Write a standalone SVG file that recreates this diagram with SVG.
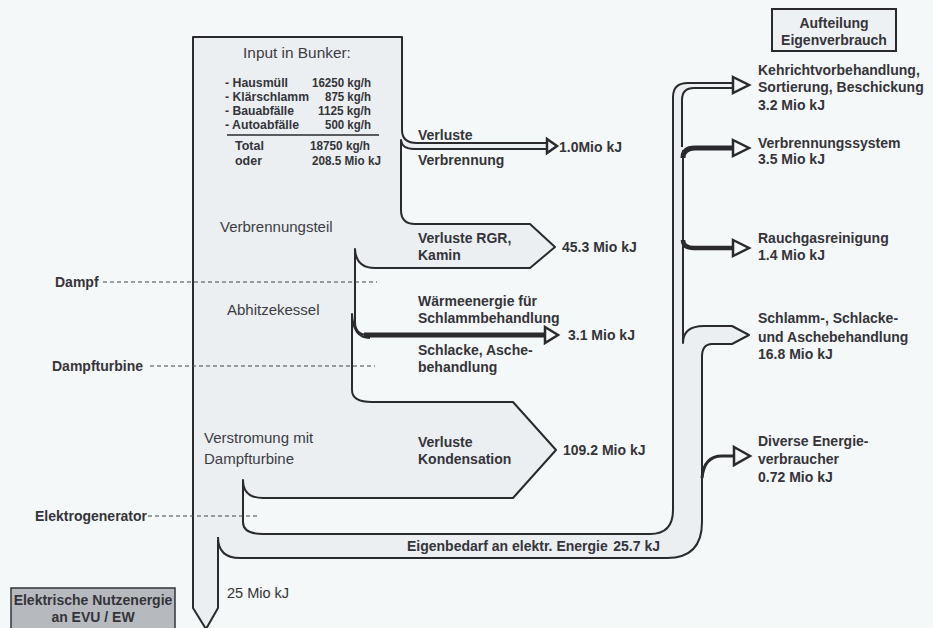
<svg xmlns="http://www.w3.org/2000/svg" width="933" height="628" viewBox="0 0 933 628">
<style>
text{font-family:"Liberation Sans",Arial,sans-serif;fill:#34343a}
.b{font-size:14px;font-weight:bold}
.bi{font-size:13px;font-weight:bold}
.r{font-size:15px;font-weight:normal;fill:#3c3c42}
.edge{fill:none;stroke:#2a2a2e;stroke-width:2;stroke-linejoin:round}
.thick{fill:none;stroke:#2a2a2e;stroke-width:5}
.head{fill:#f5f8f8;stroke:#2a2a2e;stroke-width:2.5;stroke-linejoin:miter}
.dash{fill:none;stroke:#444;stroke-width:1.2;stroke-dasharray:4 3}
.flow{fill:#ebeff2;stroke:none}
</style>
<rect x="0" y="0" width="933" height="628" fill="#f5f8f8"/>

<g id="flows">
<path class="flow" d="M193,37 H402 V130 Q402,143 417,143 H547 V149 H413 Q403,149 402,145 V210 Q402,224 415,224 H530 L555,247 L530,268 H375 Q356,268 355,250 V322 Q355,335 368,335 H545 V338 H368 Q353,338 352,325 V390 Q352,402 372,402 H513 L556,450 L513,498 H263 Q243,498 243,482 V522 Q243,534 263,534 H650 Q673,534 673,510 V97 Q673,83 688,83 H735 V88 H694 Q683,88 683,100 V340 Q684,326 704,326 H732 L749,335 L732,344 H712 Q702,344 702,357 V522 Q702,558 667,558 H240 Q218,558 218,540 V608 L206,629 L193,608 Z"/>
</g>

<g id="connectors">
<path class="edge" d="M218,540 V608 L206,629 L193,608 V37 H402 V130 Q402,143 417,143 H547"/>
<path class="edge" d="M547,149 H414 Q402,149 401,140 V210 Q401,224 415,224 H530 L555,247 L530,268 H375 Q356,268 355,249 V322 Q355,335 368,335 H380"/>
<path class="thick" d="M364,335 H546"/>
<path class="edge" d="M370,338 Q353,338 352,314 V390 Q352,402 372,402 H513 L556,450 L513,498 H263 Q243,498 243,480 V522 Q243,534 263,534 H650 Q673,534 673,510 V97 Q673,83 688,83 H735"/>
<path class="edge" d="M682,147 V100 Q682,88 694,88 H735"/>
<path class="edge" d="M683,150 V343 Q683,326 704,326 H732 L749,335 L732,344 H712 Q702,344 702,357 V522 Q702,558 667,558 H240 Q218,558 218,537"/>
<path class="thick" d="M683,158 Q683,148 695,148 H735"/>
<path class="thick" style="stroke-width:4.5" d="M683,240 Q683,248 694,248 H735"/>
<path class="edge" style="stroke-width:3" d="M702,478 Q704,456 722,456 H736"/>
<polygon class="head" points="547,139 557,146 547,153"/>
<polygon class="head" points="545,327 558,335 545,343"/>
<polygon class="head" points="733,77 749,85 733,93"/>
<polygon class="head" points="733,140 749,148 733,156"/>
<polygon class="head" points="733,240 749,248 733,256"/>
<polygon class="head" points="734,447 750,456 734,465"/>
<path class="dash" d="M103,282 H377"/>
<path class="dash" d="M150,366 H375"/>
<path class="dash" d="M148,516 H258"/>
</g>

<g id="bunker">
<text class="r" x="297" y="58" text-anchor="middle" style="font-size:15.4px">Input in Bunker:</text>
<text class="bi" x="225" y="87" textLength="63" lengthAdjust="spacingAndGlyphs">- Hausmüll</text><text class="bi" x="312" y="87" textLength="59" lengthAdjust="spacingAndGlyphs">16250 kg/h</text>
<text class="bi" x="225" y="101" textLength="84" lengthAdjust="spacingAndGlyphs">- Klärschlamm</text><text class="bi" x="325" y="101" textLength="46" lengthAdjust="spacingAndGlyphs">875 kg/h</text>
<text class="bi" x="225" y="115" textLength="69" lengthAdjust="spacingAndGlyphs">- Bauabfälle</text><text class="bi" x="318" y="115" textLength="53" lengthAdjust="spacingAndGlyphs">1125 kg/h</text>
<text class="bi" x="225" y="129" textLength="74" lengthAdjust="spacingAndGlyphs">- Autoabfälle</text><text class="bi" x="325" y="129" textLength="46" lengthAdjust="spacingAndGlyphs">500 kg/h</text>
<path d="M227,135 H379" stroke="#2a2a2e" stroke-width="1.6"/>
<text class="bi" x="235" y="150" textLength="29" lengthAdjust="spacingAndGlyphs">Total</text><text class="bi" x="310" y="150" textLength="60" lengthAdjust="spacingAndGlyphs">18750 kg/h</text>
<text class="bi" x="235" y="165" textLength="27" lengthAdjust="spacingAndGlyphs">oder</text><text class="bi" x="312" y="165" textLength="69" lengthAdjust="spacingAndGlyphs">208.5 Mio kJ</text>
</g>

<g id="sections">
<text class="r" x="220" y="232">Verbrennungsteil</text>
<text class="r" x="227" y="315">Abhitzekessel</text>
<text class="r" x="204" y="443">Verstromung mit</text>
<text class="r" x="204" y="464">Dampfturbine</text>
</g>

<g id="left-labels">
<text class="b" x="55" y="287">Dampf</text>
<text class="b" x="52" y="371">Dampfturbine</text>
<text class="b" x="35" y="521">Elektrogenerator</text>
</g>

<g id="loss-verbrennung">
<text class="b" x="418" y="140">Verluste</text>
<text class="b" x="418" y="165">Verbrennung</text>
<text class="b" x="559" y="152">1.0Mio kJ</text>
</g>
<g id="loss-rgr">
<text class="b" x="418" y="243">Verluste RGR,</text>
<text class="b" x="418" y="260">Kamin</text>
<text class="b" x="562" y="252">45.3 Mio kJ</text>
</g>
<g id="waerme">
<text class="b" x="418" y="306">Wärmeenergie für</text>
<text class="b" x="418" y="323">Schlammbehandlung</text>
<text class="b" x="418" y="355">Schlacke, Asche-</text>
<text class="b" x="418" y="372">behandlung</text>
<text class="b" x="568" y="340">3.1 Mio kJ</text>
</g>
<g id="loss-kondensation">
<text class="b" x="418" y="447">Verluste</text>
<text class="b" x="418" y="464">Kondensation</text>
<text class="b" x="563" y="455">109.2 Mio kJ</text>
</g>
<g id="eigenbedarf">
<text class="b" x="407" y="551">Eigenbedarf an elektr. Energie</text>
<text class="b" x="660" y="551" text-anchor="end">25.7 kJ</text>
</g>
<g id="nutzenergie">
<text x="227" y="598" style="font-size:14.5px;fill:#333">25 Mio kJ</text>
<rect x="11" y="588" width="164" height="50" fill="#b6babe" stroke="#333" stroke-width="1.5"/>
<text class="b" x="93" y="605" text-anchor="middle">Elektrische Nutzenergie</text>
<text class="b" x="93" y="622" text-anchor="middle">an EVU / EW</text>
</g>

<g id="aufteilung">
<rect x="772" y="9" width="124" height="42" fill="#eef1f3" stroke="#2a2a2e" stroke-width="2"/>
<text class="b" x="834" y="28" text-anchor="middle">Aufteilung</text>
<text class="b" x="834" y="45" text-anchor="middle">Eigenverbrauch</text>
</g>
<g id="kehricht">
<text class="b" x="758" y="75">Kehrichtvorbehandlung,</text>
<text class="b" x="758" y="92">Sortierung, Beschickung</text>
<text class="b" x="758" y="110">3.2 Mio kJ</text>
</g>
<g id="verbrennungssystem">
<text class="b" x="758" y="148">Verbrennungssystem</text>
<text class="b" x="758" y="164">3.5 Mio kJ</text>
</g>
<g id="rauchgas">
<text class="b" x="758" y="243">Rauchgasreinigung</text>
<text class="b" x="758" y="260">1.4 Mio kJ</text>
</g>
<g id="schlamm">
<text class="b" x="758" y="323">Schlamm-, Schlacke-</text>
<text class="b" x="758" y="342">und Aschebehandlung</text>
<text class="b" x="758" y="359">16.8 Mio kJ</text>
</g>
<g id="diverse">
<text class="b" x="758" y="446">Diverse Energie-</text>
<text class="b" x="758" y="464">verbraucher</text>
<text class="b" x="758" y="482">0.72 Mio kJ</text>
</g>
</svg>
